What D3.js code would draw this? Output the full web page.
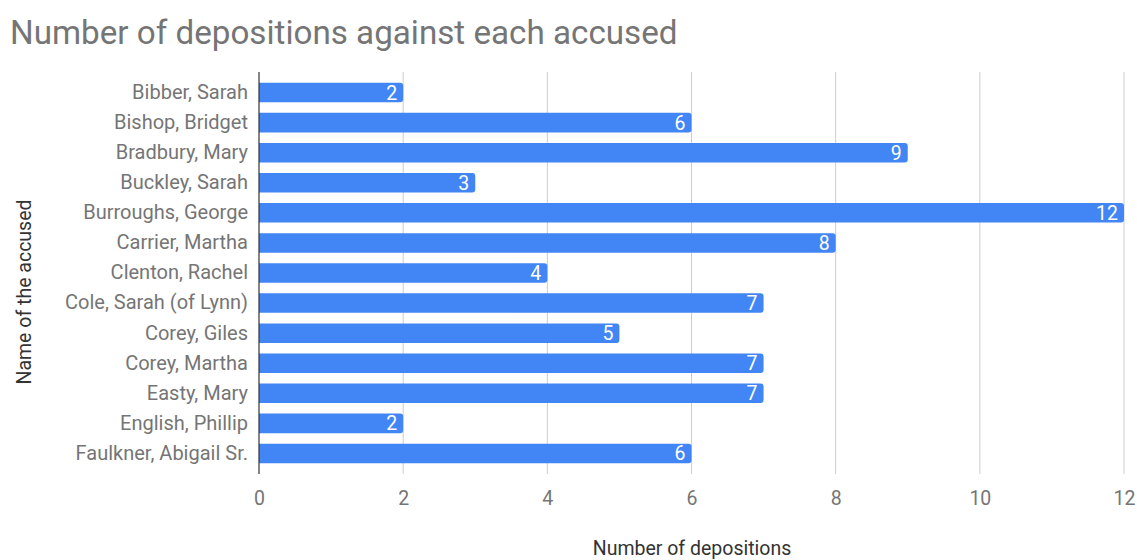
<!DOCTYPE html>
<html>
<head>
<meta charset="utf-8">
<script src="https://cdn.jsdelivr.net/npm/d3@7"></script>
<style>
  body { margin: 0; background: #fff; }
  text { font-family: Roboto, "Noto Sans", sans-serif; }
</style>
</head>
<body>
<div id="chart"></div>
<script>
// Chart data
const names = [
    "Bibber, Sarah", "Bishop, Bridget", "Bradbury, Mary", "Buckley, Sarah",
    "Burroughs, George", "Carrier, Martha", "Clenton, Rachel", "Cole, Sarah (of Lynn)",
    "Corey, Giles", "Corey, Martha", "Easty, Mary", "English, Phillip", "Faulkner, Abigail Sr."
];
const depositions = [2, 6, 9, 3, 12, 8, 4, 7, 5, 7, 7, 2, 6];
const xTicks = [0, 2, 4, 6, 8, 10, 12];

const data = names.map((n, i) => ({ name: n, value: depositions[i] }));

const W = 1137, H = 560;
const svg = d3.select("#chart").append("svg")
    .attr("width", W)
    .attr("height", H);

// Scales
const x = d3.scaleLinear().domain([0, 12]).range([259, 1124]);
const y = d3.scaleBand()
    .domain(names)
    .range([77.5, 468.5])
    .paddingInner(0.35)
    .paddingOuter(0.175);

const plotTop = 72, plotBottom = 474;

// Title
svg.append("text")
    .attr("x", 10)
    .attr("y", 44)
    .attr("fill", "#757575")
    .style("font-size", "33.2px")
    .text("Number of depositions against each accused");

// Gridlines
svg.append("g")
    .selectAll("line")
    .data(xTicks.filter(t => t > 0))
    .join("line")
    .attr("x1", d => x(d)).attr("x2", d => x(d))
    .attr("y1", plotTop).attr("y2", plotBottom)
    .attr("stroke", "#cccccc")
    .attr("stroke-width", 1);

// Bars with rounded right end
const r = 3;
svg.append("g")
    .selectAll("path")
    .data(data)
    .join("path")
    .attr("fill", "#4285f4")
    .attr("d", d => {
        const x0 = x(0), x1 = x(d.value);
        const y0 = y(d.name), h = y.bandwidth();
        return `M${x0},${y0} H${x1 - r} Q${x1},${y0} ${x1},${y0 + r} V${y0 + h - r} Q${x1},${y0 + h} ${x1 - r},${y0 + h} H${x0} Z`;
    });

// Value labels
svg.append("g")
    .selectAll("text")
    .data(data)
    .join("text")
    .attr("x", d => x(d.value) - 6)
    .attr("y", d => y(d.name) + y.bandwidth() / 2)
    .attr("dy", "0.36em")
    .attr("text-anchor", "end")
    .attr("fill", "#ffffff")
    .style("font-size", "19.5px")
    .text(d => d.value);

// Zero axis line
svg.append("line")
    .attr("x1", x(0)).attr("x2", x(0))
    .attr("y1", plotTop).attr("y2", plotBottom)
    .attr("stroke", "#333333")
    .attr("stroke-width", 1.2);

// Y axis (category labels)
const yAxis = svg.append("g")
    .attr("transform", `translate(${x(0)},0)`)
    .call(d3.axisLeft(y).tickSize(0).tickPadding(11));
yAxis.select(".domain").remove();
yAxis.selectAll("text")
    .attr("fill", "#757575")
    .style("font-size", "20px")
    .style("font-family", "Roboto, 'Noto Sans', sans-serif");

// X axis ticks
const xAxis = svg.append("g")
    .attr("transform", `translate(0,${plotBottom})`)
    .call(d3.axisBottom(x).tickValues(xTicks).tickSize(0).tickPadding(17));
xAxis.select(".domain").remove();
xAxis.selectAll("text")
    .attr("fill", "#757575")
    .style("font-size", "19.5px")
    .style("font-family", "Roboto, 'Noto Sans', sans-serif");

// Axis titles
svg.append("text")
    .attr("x", 692)
    .attr("y", 555)
    .attr("text-anchor", "middle")
    .attr("fill", "#333333")
    .style("font-size", "19.5px")
    .text("Number of depositions");

svg.append("text")
    .attr("transform", "translate(31,292) rotate(-90)")
    .attr("text-anchor", "middle")
    .attr("fill", "#333333")
    .style("font-size", "19.5px")
    .text("Name of the accused");
</script>
</body>
</html>
